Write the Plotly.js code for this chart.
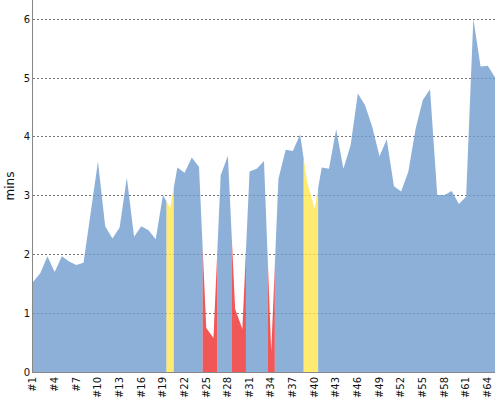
<!DOCTYPE html>
<html>
<head>
<meta charset="utf-8">
<script src="https://cdn.plot.ly/plotly-3.0.1.min.js"></script>
<style>html,body{margin:0;padding:0;background:#fff;}#chart{width:500px;height:400px;}</style>
</head>
<body>
<div id="chart"></div>
<script>
const categories = ["#1","#2","#3","#4","#5","#6","#7","#8","#9","#10",
  "#11","#12","#13","#14","#15","#16","#17","#18","#19","#20",
  "#21","#22","#23","#24","#25","#26","#27","#28","#29","#30",
  "#31","#32","#33","#34","#35","#36","#37","#38","#39","#40",
  "#41","#42","#43","#44","#45","#46","#47","#48","#49","#50",
  "#51","#52","#53","#54","#55","#56","#57","#58","#59","#60",
  "#61","#62","#63","#64","#65"];
const minutes = [1.53,1.68,1.97,1.70,1.97,1.88,1.82,1.86,2.72,3.58,
  2.48,2.27,2.46,3.31,2.30,2.48,2.41,2.26,3.01,2.79,
  3.48,3.39,3.65,3.49,0.75,0.58,3.35,3.68,1.07,0.73,
  3.41,3.46,3.59,0.35,3.29,3.78,3.76,4.04,3.22,2.78,
  3.48,3.46,4.13,3.46,3.86,4.74,4.54,4.17,3.67,3.96,
  3.16,3.07,3.41,4.14,4.63,4.81,3.01,3.01,3.08,2.86,
  2.98,6.01,5.20,5.21,5.01];
const status = ["ok","ok","ok","ok","ok","ok","ok","ok","ok","ok",
  "ok","ok","ok","ok","ok","ok","ok","ok","ok","warn",
  "ok","ok","ok","ok","fail","fail","ok","ok","fail","fail",
  "ok","ok","ok","fail","ok","ok","ok","ok","warn","warn",
  "ok","ok","ok","ok","ok","ok","ok","ok","ok","ok",
  "ok","ok","ok","ok","ok","ok","ok","ok","ok","ok",
  "ok","ok","ok","ok","ok"];
const yTicks = [0,1,2,3,4,5,6];
const statusColors = {ok:"rgba(112,156,207,0.8)", warn:"rgba(255,230,76,0.8)", fail:"rgba(238,45,45,0.8)"};

const n = minutes.length;
const traces = [];
let i = 0;
while (i < n) {
  let j = i;
  while (j + 1 < n && status[j + 1] === status[i]) j++;
  const xs = [], ys = [];
  if (i > 0) { xs.push(i - 0.5); ys.push((minutes[i - 1] + minutes[i]) / 2); }
  for (let k = i; k <= j; k++) { xs.push(k); ys.push(minutes[k]); }
  if (j < n - 1) { xs.push(j + 0.5); ys.push((minutes[j] + minutes[j + 1]) / 2); }
  traces.push({
    x: xs, y: ys, type: "scatter", mode: "lines",
    fill: "tozeroy", fillcolor: statusColors[status[i]],
    line: {width: 0, color: statusColors[status[i]]},
    hoverinfo: "skip", showlegend: false
  });
  i = j + 1;
}

const tickIdx = [], tickTxt = [];
for (let k = 0; k < n; k += 3) { tickIdx.push(k); tickTxt.push(categories[k]); }

const layout = {
  width: 500, height: 400,
  margin: {l: 33, r: 5, t: 0, b: 28, pad: 0},
  paper_bgcolor: "#fff", plot_bgcolor: "#fff",
  font: {family: "DejaVu Sans", size: 10, color: "#111"},
  showlegend: false, hovermode: false,
  xaxis: {
    range: [0, n - 1], tickvals: tickIdx, ticktext: tickTxt, tickangle: -90,
    showgrid: false, zeroline: false, showline: true, linecolor: "#888", linewidth: 1,
    ticks: "", automargin: false, layer: "above traces",
    tickfont: {family: "DejaVu Sans", size: 10, color: "#111"}
  },
  yaxis: {
    range: [0, 6.33], tickvals: yTicks, showgrid: true, gridcolor: "#777", griddash: "2px,2px",
    gridwidth: 1, zeroline: false,
    showline: true, linecolor: "#888", linewidth: 1, ticks: "", automargin: false, layer: "above traces",
    tickfont: {family: "DejaVu Sans", size: 10, color: "#111"},
    title: {text: "mins", font: {family: "DejaVu Sans", size: 12, color: "#111"}, standoff: 6}
  }
};

Plotly.newPlot("chart", traces, layout, {staticPlot: true, displayModeBar: false});
</script>
</body>
</html>
